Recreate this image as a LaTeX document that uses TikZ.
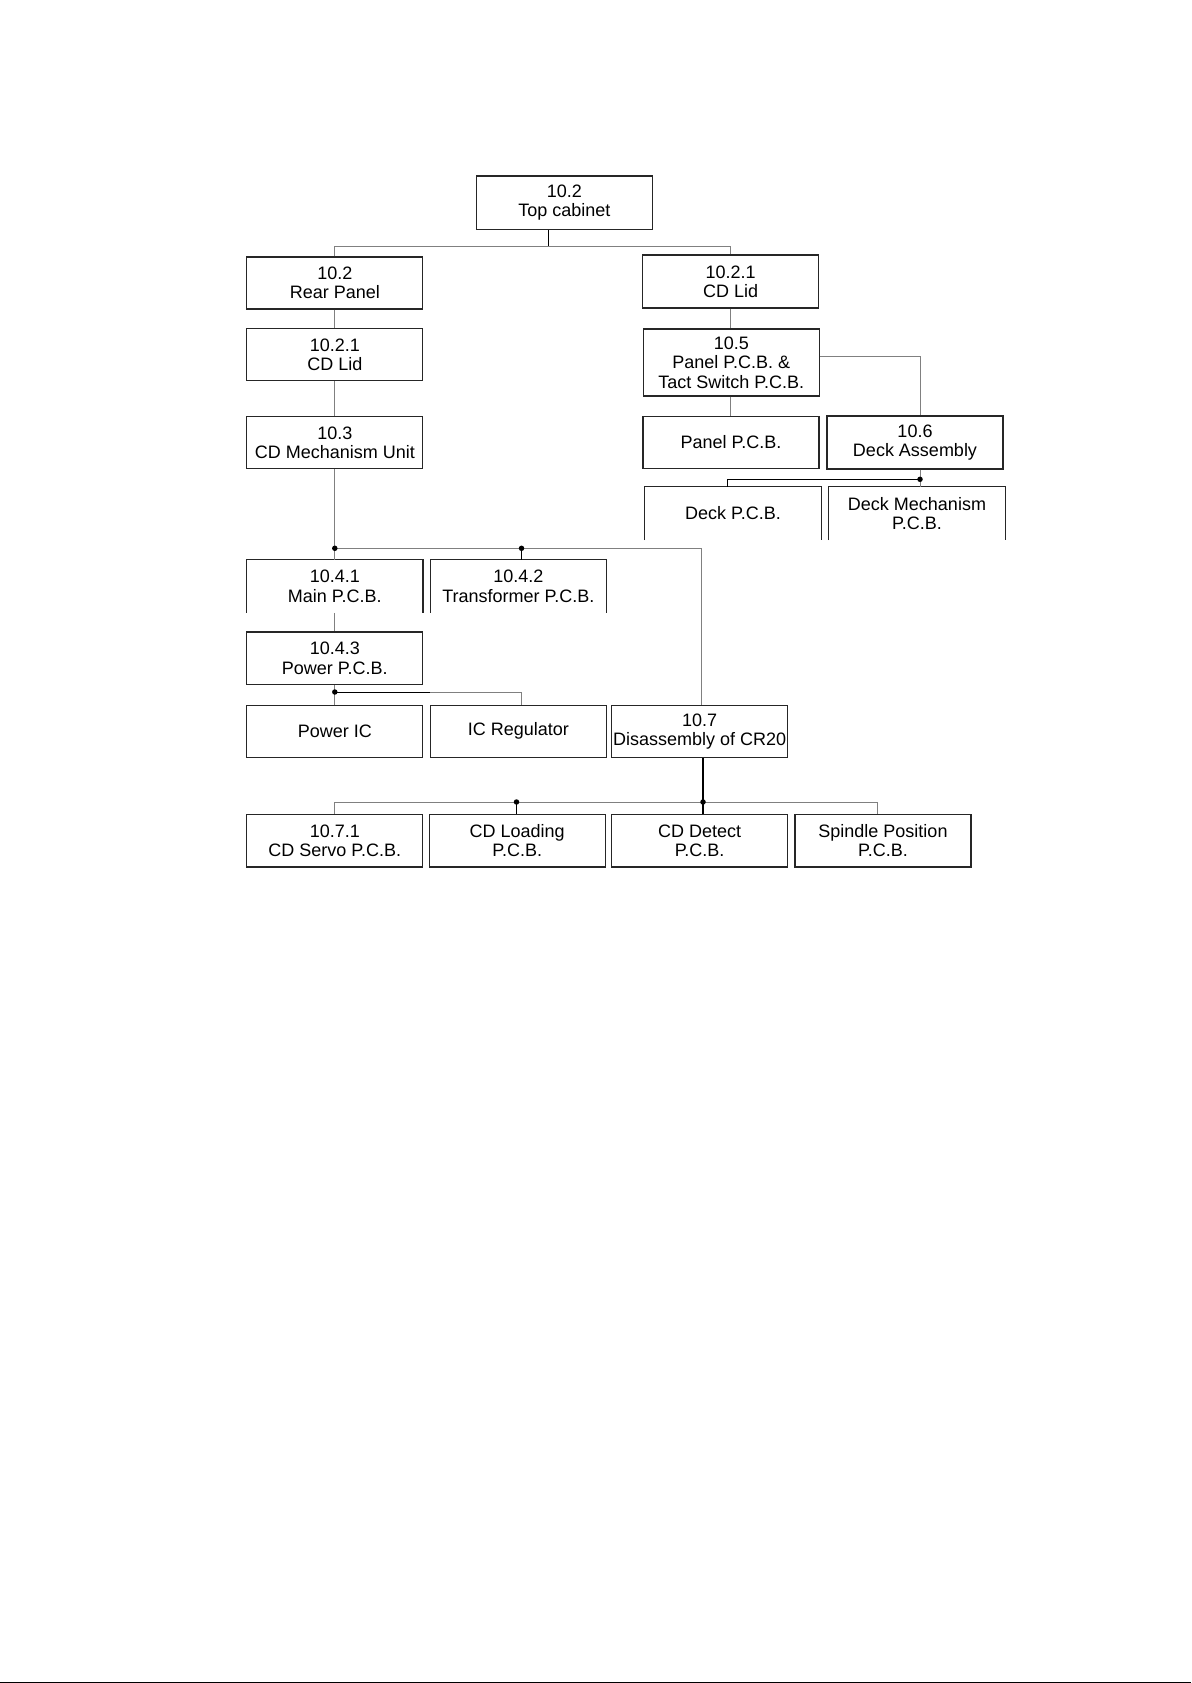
\documentclass[tikz,border=0pt]{standalone}
\usepackage{fontspec}
\setmainfont{Liberation Sans}
\begin{document}
\begin{tikzpicture}[x=1pt,y=-1pt,
  box/.style={draw=black!85, line width=1.1pt, inner sep=0pt, align=center,
    minimum width=176pt, font=\fontsize{18}{19.3}\selectfont},
  obox/.style={inner sep=0pt, align=center, minimum width=176pt, font=\fontsize{18}{19.3}\selectfont},
  side/.style={draw=black!85, line width=1.1pt},
  conn/.style={draw=black!50, line width=1pt},
  conb/.style={draw=black, line width=1.2pt},
  dot/.style={circle, fill=black, inner sep=0pt, minimum size=5.5pt}]
\useasboundingbox (0,0) rectangle (1191,1683);
\fill[white] (0,0) rectangle (1191,1683);
\fill[black] (0,1681.5) rectangle (1191,1683);

% nodes
\node[box, minimum height=53.6pt] (top) at (564.4,202.8) {10.2\\Top cabinet};
\node[box, minimum height=52pt] (rear) at (334.8,283) {10.2\\Rear Panel};
\node[box, minimum height=53pt] (lidR) at (730.7,281.5) {10.2.1\\CD Lid};
\node[box, minimum height=52.6pt] (lidL) at (334.8,354.6) {10.2.1\\CD Lid};
\node[box, minimum height=67pt] (panelsw) at (731.3,362.5) {10.5\\Panel P.C.B. \&\\Tact Switch P.C.B.};
\node[box, minimum height=52.6pt] (mech) at (334.8,442.6) {10.3\\CD Mechanism Unit};
\node[box, minimum height=52.5pt] (panel) at (731,442.3) {Panel P.C.B.};
\node[box, minimum height=53pt] (deckA) at (915,442.5) {10.6\\Deck Assembly};
\node[obox, minimum height=53pt] (deckpcb) at (733,513.5) {Deck P.C.B.};
\node[obox, minimum height=53pt] (deckmech) at (917,513.5) {Deck Mechanism\\P.C.B.};
\node[obox, minimum height=52.7pt] (main) at (334.8,586.4) {10.4.1\\Main P.C.B.};
\node[obox, minimum height=52.7pt] (trans) at (518.3,586.4) {10.4.2\\Transformer P.C.B.};
\node[box, minimum height=52.6pt] (power) at (334.8,658.3) {10.4.3\\Power P.C.B.};
\node[box, minimum height=52.5pt] (pic) at (334.8,731.3) {Power IC};
\node[box, minimum height=52.5pt] (icreg) at (518.3,731.3) {IC Regulator};
\node[box, minimum height=52.5pt] (dis) at (699.6,731.3) {10.7\\Disassembly of CR20};
\node[box, minimum height=52.6pt] (servo) at (334.8,840.7) {10.7.1\\CD Servo P.C.B.};
\node[box, minimum height=52.6pt] (load) at (517.2,840.7) {CD Loading\\P.C.B.};
\node[box, minimum height=52.6pt] (detect) at (699.6,840.7) {CD Detect\\P.C.B.};
\node[box, minimum height=52.6pt] (spindle) at (883,840.7) {Spindle Position\\P.C.B.};

% open-bottom boxes
\foreach \n in {deckpcb,deckmech,main,trans}
  \draw[side] (\n.south west) -- (\n.north west) -- (\n.north east) -- (\n.south east);

% junction coordinates
\coordinate (jt) at (548.3,246.8);
\coordinate (jd) at (920,356);
\coordinate (jdk) at (920,479.3);
\coordinate (jdp) at (727.3,479.3);
\coordinate (jm) at (334.8,548.3);
\coordinate (jtr) at (521.5,548.3);
\coordinate (jdis) at (701.7,548.3);
\coordinate (jp) at (334.8,692);
\coordinate (jpb) at (430,692);
\coordinate (jir) at (521.7,692);
\coordinate (jx) at (703,802);
\coordinate (jl) at (516.5,802);
\coordinate (jsp) at (877,802);

% connectors
\draw[conb] (top.south -| jt) -- (jt);
\draw[conn] (rear.north) -- (rear.north |- jt) -- (lidR.north |- jt) -- (lidR.north);
\draw[conn] (rear.south) -- (lidL.north);
\draw[conn] (lidL.south) -- (mech.north);
\draw[conn] (lidR.south) -- (lidR.south |- panelsw.north);
\draw[conn] (panelsw.south -| lidR) -- (panel.north -| lidR);
\draw[conn] (panelsw.east |- jd) -- (jd) -- (jd |- deckA.north);
\draw[conn] (deckA.south -| jdk) -- (jdk) -- (jdk |- deckmech.north);
\draw[conb] (jdk) -- (jdp) -- (jdp |- deckpcb.north);
\draw[conn] (mech.south) -- (jm) -- (jdis) -- (jdis |- dis.north);
\draw[conn] (jm) -- (main.north);
\draw[conb] (jtr) -- (jtr |- trans.north);
\draw[conn] (main.south) -- (power.north);
\draw[conn] (power.south) -- (jp) -- (pic.north);
\draw[conb, line width=1pt] (jp) -- (jpb);
\draw[conn] (jpb) -- (jir) -- (jir |- icreg.north);
\draw[conb] (dis.south -| jx) -- (jx) -- (jx |- detect.north);
\draw[conn] (servo.north) -- (servo.north |- jx) -- (jsp) -- (jsp |- spindle.north);
\draw[conb] (jl) -- (jl |- load.north);

% dots
\foreach \c in {jdk,jm,jtr,jp,jx,jl}
  \node[dot] at (\c) {};
\end{tikzpicture}
\end{document}
